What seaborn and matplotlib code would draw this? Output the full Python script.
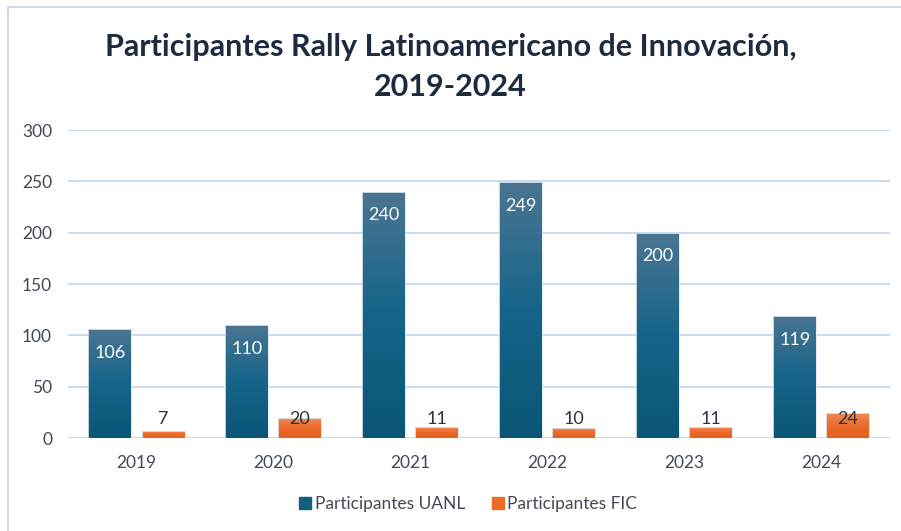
import numpy as np
import pandas as pd
import seaborn as sns
import matplotlib.pyplot as plt
from matplotlib.colors import LinearSegmentedColormap
from matplotlib.lines import Line2D

sns.set_style('white')
plt.rcParams['font.family'] = ['Lato', 'DejaVu Sans']

# datos
years = ['2019', '2020', '2021', '2022', '2023', '2024']
uanl = [106, 110, 240, 249, 200, 119]
fic = [7, 20, 11, 10, 11, 24]
series = ['Participantes UANL', 'Participantes FIC']

df = pd.DataFrame({
    'year': years * 2,
    'value': uanl + fic,
    'serie': [series[0]] * len(years) + [series[1]] * len(years),
})

blue = '#145f80'
orange = '#ec6a2a'
grid_c = '#c9dcf0'
text_c = '#404a57'

fig = plt.figure(figsize=(9.01, 5.31), dpi=100)
ax = fig.add_axes([0.0755, 0.175, 0.912, 0.58])

sns.barplot(data=df, x='year', y='value', hue='serie', palette=[blue, orange],
            width=0.775, gap=0.19, ax=ax, legend=False, zorder=3)

# degradado en las barras
cmaps = [LinearSegmentedColormap.from_list('b', ['#0b5676', '#16648a', '#4b7592']),
         LinearSegmentedColormap.from_list('o', ['#e35f1c', '#ec6c2c', '#f08b56'])]
grad = np.linspace(0, 1, 256).reshape(-1, 1)
for cont, cm in zip(ax.containers, cmaps):
    for bar in cont:
        x0, y0 = bar.get_x(), bar.get_y()
        w, h = bar.get_width(), bar.get_height()
        bar.set_facecolor('none')
        bar.set_edgecolor('#dfe8f0')
        bar.set_linewidth(0.6)
        im = ax.imshow(grad, cmap=cm, origin='lower', aspect='auto',
                       extent=[x0, x0 + w, y0, y0 + h], zorder=2)
        im.set_clip_path(bar)

# etiquetas
for cont, vals in zip(ax.containers, [uanl, fic]):
    for bar, v in zip(cont, vals):
        xc = bar.get_x() + bar.get_width() / 2
        if vals is uanl:
            ax.text(xc, v - 23, str(v), ha='center', va='center', color='white', fontsize=13, zorder=5)
        else:
            ax.text(xc, 19, str(v), ha='center', va='center', color='#2c3440', fontsize=13, zorder=5)

ax.set_xlim(-0.5, 5.5)
ax.set_ylim(0, 300)
ax.set_yticks(range(0, 301, 50))
ax.yaxis.grid(True, color=grid_c, linewidth=1.5, zorder=0)
ax.set_axisbelow(True)
for s in ax.spines.values():
    s.set_visible(False)
ax.set_xlabel('')
ax.set_ylabel('')
ax.tick_params(axis='both', length=0, labelsize=12.5, labelcolor=text_c)
ax.tick_params(axis='x', pad=12)
ax.tick_params(axis='y', pad=11.5)

fig.text(0.5, 0.874, 'Participantes Rally Latinoamericano de Innovación,\n2019-2024',
         ha='center', va='center', fontsize=22, fontweight='bold', color='#1c2b40',
         linespacing=1.55)

handles = [Line2D([], [], marker='s', linestyle='', color=c, markersize=8) for c in [blue, orange]]
fig.legend(handles, series, loc='center', bbox_to_anchor=(0.52, 0.05), ncol=2, frameon=False,
           fontsize=12.5, labelcolor=text_c, handlelength=0.6, handletextpad=0.25,
           columnspacing=1.6)

# borde del recuadro
fig.add_artist(Line2D([8 / 901, 1], [1 - 7 / 531] * 2, color=grid_c, lw=1.5))
fig.add_artist(Line2D([8 / 901] * 2, [0, 1 - 7 / 531], color=grid_c, lw=1.5))

fig.savefig('out.png', dpi=100)
